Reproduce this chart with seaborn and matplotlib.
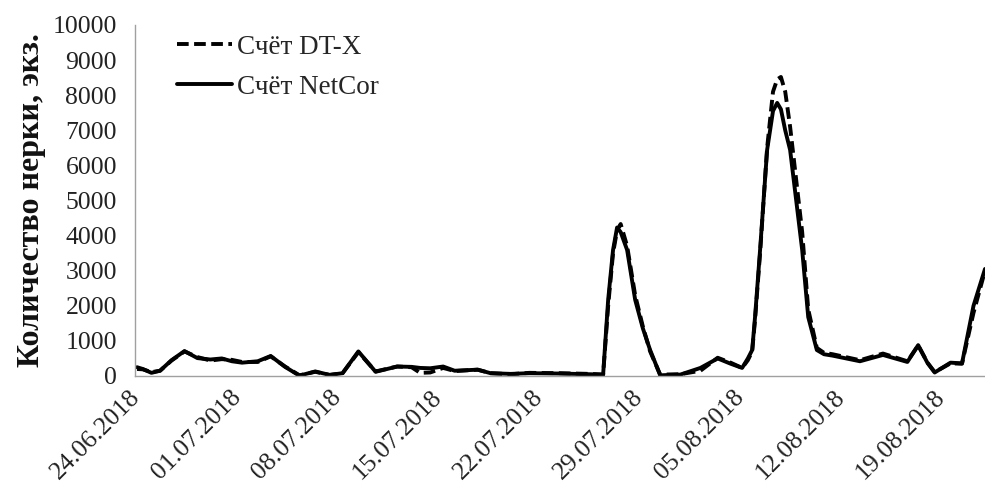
import pandas as pd
import matplotlib
matplotlib.use("Agg")
import matplotlib.pyplot as plt
import seaborn as sns

# Observation start and sampling moments (days from start)
start = pd.Timestamp("2018-06-24")
day = [0.0, 0.4, 1.0, 1.6, 2.4, 3.3, 4.2, 5.1, 5.9, 6.6, 7.3, 8.4, 9.3, 10.3,
       11.3, 12.4, 13.4, 14.3, 15.4, 16.6, 18.1, 19.1, 19.7, 20.4, 21.3, 22.1,
       23.7, 24.6, 26.0, 27.3, 29.4, 31.5, 32.43, 32.78, 33.12, 33.4, 33.65,
       34.1, 34.66, 35.2, 35.7, 36.4, 37.8, 39.2, 40.4, 41.3, 42.1, 42.5, 42.8,
       43.0, 43.35, 43.84, 44.25, 44.54, 44.8, 45.1, 45.44, 46.28, 46.7, 47.3,
       47.8, 48.4, 50.3, 51.9, 53.6, 54.35, 55.0, 55.5, 56.6, 57.4, 58.2, 59.0]

# NetCor count
netcor = [250, 200, 90, 150, 450, 710, 510, 470, 500, 420, 380, 420, 570, 260,
          10, 130, 30, 80, 700, 120, 270, 260, 230, 220, 270, 150,
          180, 80, 60, 80, 70, 50, 40, 2170, 3590, 4230, 4100,
          3590, 2170, 1350, 740, 20, 40, 230, 500, 350, 230, 500, 740,
          1680, 3590, 6440, 7550, 7780, 7600, 7000, 6440, 3590, 1680, 740,
          620, 580, 420, 600, 400, 880, 370, 100, 380, 360, 2000, 3050]

# DT-X count
dtx = [200, 190, 110, 150, 440, 700, 540, 440, 480, 460, 400, 400, 560, 270,
       20, 120, 30, 80, 680, 130, 270, 250, 90, 100, 230, 140,
       180, 80, 50, 90, 80, 60, 40, 2000, 3500, 4150, 4330,
       3700, 2300, 1400, 700, 40, 50, 150, 520, 380, 230, 450, 700,
       1600, 3500, 6500, 8100, 8450, 8520, 8100, 7100, 4100, 1900, 800,
       660, 620, 450, 640, 420, 870, 380, 110, 360, 350, 1800, 3000]

tick_labels = ["24.06.2018", "01.07.2018", "08.07.2018", "15.07.2018",
               "22.07.2018", "29.07.2018", "05.08.2018", "12.08.2018",
               "19.08.2018"]
y_ticks = list(range(0, 10001, 1000))

sns.set_style("white")
plt.rcParams["font.family"] = ["Liberation Serif", "DejaVu Serif"]

df = pd.DataFrame({
    "date": start + pd.to_timedelta(day, unit="D"),
    "NetCor": netcor,
    "DT-X": dtx,
})

W, H = 985, 488
fig = plt.figure(figsize=(W / 100, H / 100), dpi=100)
ax = fig.add_axes([135 / W, 1 - 376 / H, 850 / W, 351 / H])

sns.lineplot(data=df, x="date", y="NetCor", ax=ax, color="black", lw=2.8,
             label="Счёт NetCor", solid_joinstyle="round")
sns.lineplot(data=df, x="date", y="DT-X", ax=ax, color="black", lw=2.8,
             linestyle=(0, (3, 1.4)), label="Счёт DT-X")

tick_dates = [start + pd.Timedelta(days=7 * i) for i in range(len(tick_labels))]
ax.set_xticks(tick_dates)
ax.set_xticklabels(tick_labels, rotation=45, ha="right", va="center",
                   rotation_mode="anchor")
ax.set_xlim(start - pd.Timedelta(hours=3.4), start + pd.Timedelta(days=59))
ax.set_ylim(0, 10000)
ax.set_yticks(y_ticks)
ax.set_yticklabels([str(v) for v in y_ticks])

for side in ("top", "right"):
    ax.spines[side].set_visible(False)
for side in ("left", "bottom"):
    ax.spines[side].set_color("#a0a0a0")
    ax.spines[side].set_linewidth(1)

ax.tick_params(axis="both", direction="out", length=5, width=1,
               color="#a0a0a0", labelsize=18.5, labelcolor="#222222")
ax.tick_params(axis="x", pad=8)
ax.tick_params(axis="y", pad=8)

ax.set_xlabel("")
ax.set_ylabel("Количество нерки, экз.", fontsize=23, fontweight="bold",
              color="#111111", labelpad=5)

handles, labels = ax.get_legend_handles_labels()
ax.legend(handles[::-1], labels[::-1], loc="upper left",
          bbox_to_anchor=(0.049, 0.972), frameon=False, fontsize=19.5,
          handlelength=2.05, handletextpad=0.18, labelspacing=0.55,
          borderpad=0, borderaxespad=0)

fig.savefig("out.png", dpi=100)
